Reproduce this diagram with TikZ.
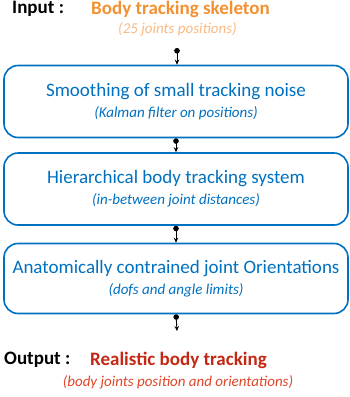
\documentclass[tikz,border=0pt]{standalone}
\usepackage{fontspec}
\setmainfont{Carlito}
\usetikzlibrary{arrows.meta}

\definecolor{boxblue}{RGB}{0,112,192}
\definecolor{inorange}{RGB}{242,145,50}
\definecolor{inlight}{RGB}{250,185,130}
\definecolor{outred}{RGB}{195,40,20}
\definecolor{outlight}{RGB}{225,70,40}

\begin{document}
\begin{tikzpicture}[x=1pt, y=-1pt,
    stage/.style={rectangle, rounded corners=14pt, draw=boxblue, line width=1.6pt,
        minimum width=344pt, minimum height=72pt, align=center, text=boxblue,
        font=\fontsize{19}{22}\selectfont},
    title/.style={font=\fontsize{19}{22}\selectfont\bfseries, anchor=west, inner sep=0pt},
    note/.style={font=\fontsize{15}{18}\selectfont\itshape, inner sep=0pt},
    flow/.style={line width=0.9pt, {Circle[length=5.5pt]}-{Stealth[length=5pt,width=4.5pt]}}]
        \useasboundingbox (0,0) rectangle (350,397);
        \node[title] (inlbl) at (12,9) {Input :};
        \node[title, text=inorange] (inname) at (91,9) {Body tracking skeleton};
        \node[note, text=inlight] (innote) at (177.5,29) {(25 joints positions)};
        \coordinate (instart) at (177,48);
        \node[stage] (b1) at (176,101.5) {Smoothing of small tracking noise\\[-1pt]{\fontsize{15}{18}\selectfont\itshape (Kalman filter on positions)}};
        \node[stage] (b2) at (176,189) {Hierarchical body tracking system\\[-1pt]{\fontsize{15}{18}\selectfont\itshape (in-between joint distances)}};
        \node[stage, minimum height=70pt] (b3) at (176,278.5) {Anatomically contrained joint Orientations\\[-1pt]{\fontsize{15}{18}\selectfont\itshape (dofs and angle limits)}};
        \coordinate (outend) at (177,331);
        \node[title] (outlbl) at (4,360) {Output :};
        \node[title, text=outred] (outname) at (90,360) {Realistic body tracking};
        \node[note, text=outlight] (outnote) at (178,382) {(body joints position and orientations)};
        \draw[flow] (instart) -- (instart |- b1.north);
        \draw[flow] (b1.south) -- (b2.north);
        \draw[flow] (b2.south) -- (b3.north);
        \draw[flow] (b3.south) -- (outend);
    \end{tikzpicture}
\end{document}
